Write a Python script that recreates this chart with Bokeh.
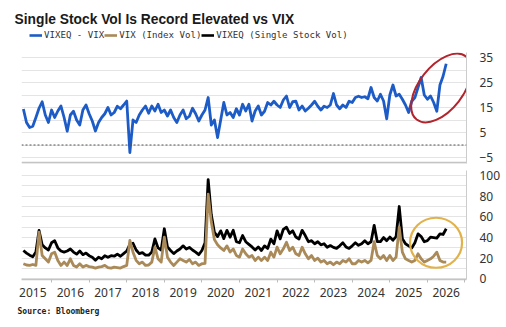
import numpy as np
from bokeh.plotting import figure
from bokeh.layouts import column
from bokeh.models import Range1d, FixedTicker, Span, Legend, LegendItem, Title
from bokeh.embed import file_html
from bokeh.resources import INLINE

# ---------------- data (monthly observations from April 2015) ----------------
START_YEAR = 2015.25
spread = [
    14.4, 9, 7, 7.5, 11, 14.7, 17.3, 12, 9, 14,
    11, 13.6, 15.6, 11, 5.5, 12, 13.5, 10, 8, 14,
    16, 12.5, 9.6, 5.6, 9, 11, 12.5, 15, 12, 13,
    15.5, 14.5, 16, 17.6, -3, 10, 9, 12, 14, 15.6,
    12.7, 15.6, 13.6, 16.3, 13, 14, 11.6, 14, 11, 9,
    12, 14, 10.5, 11.5, 14.7, 12.5, 9.6, 12, 14, 19,
    8, 10, 3, 10, 17, 12, 13, 11, 14.5, 12,
    16.3, 13.6, 16.3, 9.6, 13.6, 15.6, 12, 13.5, 17, 16,
    17.5, 16, 15, 18, 19.6, 15, 17.3, 17.5, 14, 15.6,
    13.6, 14.7, 16, 17.5, 15.5, 14, 15.5, 15, 16, 20.6,
    16, 14.5, 16, 15, 17.5, 17, 19, 19.5, 19, 19.3,
    18.5, 23, 19, 17.6, 20.3, 17.6, 10.5, 20, 24, 19.6,
    20.3, 18.3, 16, 13, 17.5, 19, 23, 27, 20, 18.3,
    19.6, 17, 13.5, 24, 27.5, 32.5,
]
vixeq = [
    27.5, 25, 23, 21.5, 26, 46.9, 33, 30, 28, 35,
    37, 30, 27, 26, 27, 29, 26, 24, 27, 23.5,
    25, 22.5, 21, 18, 21, 19.5, 22.5, 21, 22.5, 22,
    24, 22, 24.5, 27, 33.5, 34.5, 28, 24.5, 25.5, 23,
    23, 26, 38.7, 30, 28, 48.5, 31, 27.5, 24.5, 27,
    29, 32, 29, 30.5, 28, 26, 23.5, 27.5, 35, 96,
    62, 45, 41, 46.5, 39, 47, 40.4, 47, 36, 35,
    42, 36, 33.5, 31, 28, 31, 27.5, 32, 29.5, 38.5,
    34, 46.5, 38.7, 48, 50, 44, 46.5, 40.5, 38.7, 47,
    42, 36, 37, 34, 36, 33, 34, 30.7, 32.3, 30.5,
    29.5, 32, 35, 31, 29.5, 32, 35, 32.5, 34, 37,
    34, 36, 51.8, 36, 36, 40, 37, 40.5, 37.5, 41,
    70, 39, 34, 32, 30, 35, 43.6, 41, 36, 37,
    40.4, 40, 39.5, 43.6, 43, 48.5,
]
vix = [
    14.7, 13.5, 13.1, 14, 13.1, 45.3, 22.7, 19.5, 16.3, 24.3,
    25.9, 17.9, 13.1, 16.3, 13.1, 19.5, 13.1, 11.5, 14.7, 11.5,
    13.1, 12, 11.5, 10.5, 11.5, 12, 13.1, 11, 10.5, 11.5,
    11, 10.5, 12, 13.1, 37.2, 25.9, 18, 14.7, 16.3, 13.1,
    13.5, 16.3, 30.7, 19.5, 16.3, 40.4, 21.1, 16.3, 13.1, 16.3,
    19.5, 17.9, 16.3, 18.8, 14.7, 16.3, 13.1, 14.7, 15, 82,
    55, 38, 33, 30, 27.5, 32, 26, 29, 22.7, 21.1,
    29, 24.3, 21.1, 22.7, 17.9, 21.1, 17.9, 21.1, 17.9, 25.9,
    21.1, 30.7, 24.3, 29.1, 35.5, 27.5, 30.7, 24.3, 22.7, 30.7,
    24.3, 19.5, 22.7, 17.9, 20.1, 16.3, 17.9, 14.7, 16.3, 13.7,
    16.3, 14.7, 17.9, 16.3, 19.5, 14.7, 14.7, 17.9, 16.3, 17.9,
    15.6, 17.9, 36, 22.7, 19.5, 22.7, 17.9, 22.7, 17.9, 21.1,
    50, 25.9, 19.5, 17.9, 16.3, 17.9, 24.3, 19.5, 16.3, 17.9,
    19.5, 22, 25.9, 17.9, 16.3, 16.3,
]
dates = START_YEAR + np.arange(len(spread)) / 12.0

year_labels = ["2015", "2016", "2017", "2018", "2019", "2020",
               "2021", "2022", "2023", "2024", "2025", "2026"]
top_tick_labels = [-5, 5, 15, 25, 35]
bot_tick_labels = [0, 20, 40, 60, 80, 100]

series_names = ["VIXEQ - VIX", "VIX (Index Vol)", "VIXEQ (Single Stock Vol)"]
title_text = "Single Stock Vol Is Record Elevated vs VIX"
source_text = "Source: Bloomberg"

# highlight annotations (data units)
red_ellipse = dict(x=2026.37, y=22.8)
gold_circle = dict(x=2026.23, y=35.0)

# ---------------- styles ----------------
BLUE = "#1d5cc6"
TAN = "#a98a58"
BLACK = "#000000"
GRID = "#e4e4e4"
AXIS = "#cccccc"
TXT = "#333333"
LBL_FONT = "Noto Sans"
LW = 2.8

X0, X1 = 2015.2, 2027.04

# ---------------- header: title + legend ----------------
HEAD_H = 48
head = figure(width=506, height=HEAD_H, x_range=Range1d(0, 1), y_range=Range1d(0, 1),
              output_backend="svg", toolbar_location=None,
              x_axis_location=None, y_axis_location=None,
              min_border_left=0, min_border_right=0, min_border_bottom=0,
              min_border_top=26, outline_line_color=None,
              background_fill_color="white", border_fill_color="white")
head.grid.visible = False
head.title.text = title_text
head.title.align = "left"
head.title.offset = -7
head.title.standoff = 0
head.title.text_font = "Liberation Sans"
head.title.text_font_style = "bold"
head.title.text_font_size = "13.8px"
head.title.text_color = "#1a1a1a"

k_spread = head.line([0], [np.nan], line_color=BLUE, line_width=2.6)
k_vix = head.line([0], [np.nan], line_color=TAN, line_width=2.6)
k_vixeq = head.line([0], [np.nan], line_color=BLACK, line_width=2.6)
legend = Legend(items=[LegendItem(label=series_names[0], renderers=[k_spread]),
                       LegendItem(label=series_names[1], renderers=[k_vix]),
                       LegendItem(label=series_names[2], renderers=[k_vixeq])],
                orientation="horizontal", location=(8, 8),
                padding=0, margin=0, spacing=-3, label_standoff=2,
                glyph_width=13, glyph_height=10, label_height=10,
                label_text_font="DejaVu Sans Mono", label_text_font_size="9.1px",
                label_text_color=TXT, border_line_color=None,
                background_fill_alpha=0)
head.add_layout(legend)


def base_fig(height, y0, y1, top_b, bot_b, xaxis):
    p = figure(width=506, height=height,
               x_range=Range1d(X0, X1), y_range=Range1d(y0, y1),
               output_backend="svg", toolbar_location=None,
               x_axis_location=("below" if xaxis else None),
               y_axis_location="right",
               min_border_left=21, min_border_right=40,
               min_border_top=top_b, min_border_bottom=bot_b,
               outline_line_color=None, background_fill_color="white",
               border_fill_color="white")
    p.xgrid.visible = False
    p.ygrid.grid_line_color = GRID
    p.ygrid.grid_line_width = 1
    ax = p.yaxis[0]
    ax.axis_line_color = AXIS
    ax.axis_line_width = 1
    ax.major_tick_line_color = None
    ax.minor_tick_line_color = None
    ax.major_label_text_font = LBL_FONT
    ax.major_label_text_font_size = "12px"
    ax.major_label_text_color = TXT
    ax.major_label_standoff = 7
    return p

# ---------------- top panel ----------------
top = base_fig(166 - HEAD_H, -7.4, 37.0, 4, 3, False)
top.yaxis[0].ticker = FixedTicker(ticks=top_tick_labels)
top.ygrid[0].ticker = FixedTicker(ticks=list(range(-5, 40, 5)))
top.add_layout(Span(location=0, dimension="width", line_color="#555555",
                    line_width=1.2, line_dash="2 2"))
top.add_layout(Span(location=-7.1, dimension="width", line_color="#c4c4c4",
                    line_width=2))
top.line(dates, spread, line_color=BLUE, line_width=LW, line_join="round")
top.ellipse(x=[red_ellipse["x"]], y=[red_ellipse["y"]], width=80, height=44,
            width_units="screen", height_units="screen", angle=52, angle_units="deg",
            fill_color=None, line_color="#b3242c", line_width=2)

# ---------------- bottom panel ----------------
bot = base_fig(161, -0.5, 104.8, 4, 48, True)
bot.yaxis[0].ticker = FixedTicker(ticks=bot_tick_labels)
bot.ygrid[0].ticker = FixedTicker(ticks=list(range(0, 110, 10)))

bot.line(dates, vixeq, line_color=BLACK, line_width=LW, line_join="round")
bot.line(dates, vix, line_color=TAN, line_width=LW, line_join="round")

bot.ellipse(x=[gold_circle["x"]], y=[gold_circle["y"]], width=52, height=50,
            width_units="screen", height_units="screen",
            fill_color=None, line_color="#e2b24a", line_width=2.2)

mid_years = [int(y) + 0.5 for y in year_labels]
xa = bot.xaxis[0]
xa.ticker = FixedTicker(ticks=mid_years, minor_ticks=[int(y) + 1 for y in year_labels])
xa.major_label_overrides = {m: lab for m, lab in zip(mid_years, year_labels)}
xa.major_tick_line_color = None
xa.minor_tick_line_color = "#bdbdbd"
xa.minor_tick_in = 0
xa.minor_tick_out = 3
xa.axis_line_color = "#c4c4c4"
xa.axis_line_width = 1.5
xa.major_label_standoff = 2
xa.major_label_text_font = LBL_FONT
xa.major_label_text_font_size = "12px"
xa.major_label_text_color = TXT

bot.add_layout(Title(text=source_text, align="left", offset=-4,
                     text_font="DejaVu Sans Mono", text_font_style="bold",
                     text_font_size="8px", text_color="#222222"), "below")

layout = column(head, top, bot, spacing=0)
open("out.html", "w").write(file_html(layout, INLINE))
